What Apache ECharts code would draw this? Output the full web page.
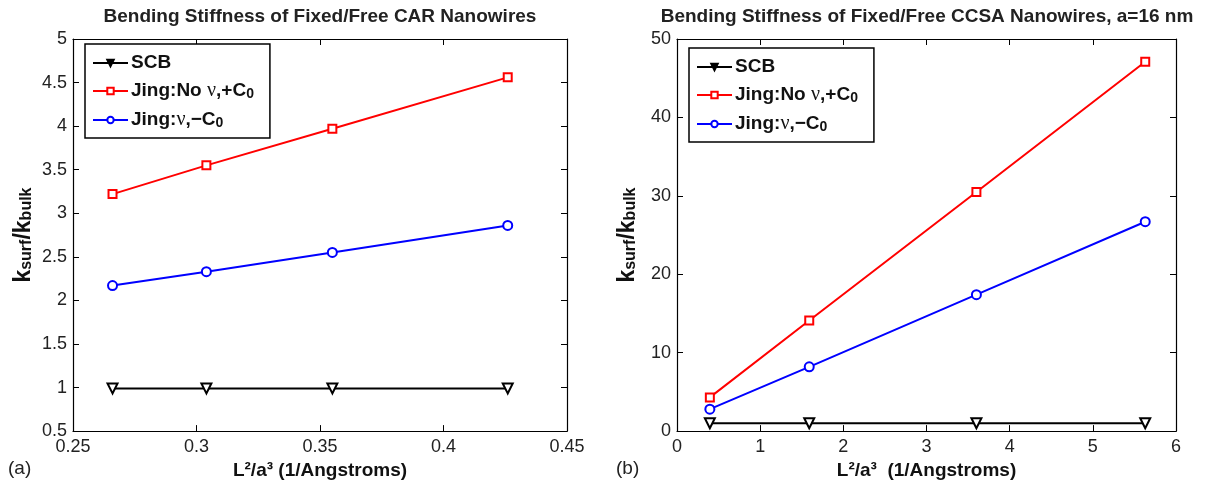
<!DOCTYPE html>
<html>
<head>
<meta charset="utf-8">
<script src="https://cdn.jsdelivr.net/npm/echarts@6/dist/echarts.min.js"></script>
<style>
html,body{margin:0;padding:0;background:#fff;}
#c{width:1205px;height:485px;}
</style>
</head>
<body>
<div id="c"></div>
<script>
// ---- data ----
const leftX = [0.266, 0.304, 0.355, 0.426];
const leftSCB = [0.99, 0.99, 0.99, 0.99];
const leftNoNu = [3.22, 3.55, 3.97, 4.56];
const leftNu = [2.17, 2.33, 2.55, 2.86];

const rightX = [0.395, 1.59, 3.60, 5.63];
const rightSCB = [1.0, 1.0, 1.0, 1.0];
const rightNoNu = [4.3, 14.1, 30.5, 47.1];
const rightNu = [2.8, 8.2, 17.4, 26.7];

const seriesNames = ['SCB', 'Jing:No ν,+C0', 'Jing:ν,−C0'];
const legendLabels = {
  'SCB': '{t|SCB}',
  'Jing:No ν,+C0': '{t|Jing:No }{g|ν}{t|,+C}{s|0}',
  'Jing:ν,−C0': '{t|Jing:}{g|ν}{t|,−C}{s|0}'
};
const titles = ['Bending Stiffness of Fixed/Free CAR Nanowires', 'Bending Stiffness of Fixed/Free CCSA Nanowires, a=16 nm'];
const xNames = ['L²/a³ (1/Angstroms)', 'L²/a³  (1/Angstroms)'];
const panelTags = ['(a)', '(b)'];

// ---- helpers ----
const FONT = 'Liberation Sans, Arial, Helvetica, sans-serif';
const pair = (xs, ys) => xs.map((x, i) => [x, ys[i]]);

function xAx(grid, min, max, interval, pos, name) {
  return {
    type: 'value', gridIndex: grid, min: min, max: max, interval: interval, position: pos,
    axisLine: {show: true, onZero: false, lineStyle: {color: '#000', width: 1.2}},
    axisTick: {show: true, inside: true, length: 6, lineStyle: {color: '#000', width: 1}},
    axisLabel: {show: pos === 'bottom', fontSize: 18, color: '#222', fontFamily: FONT, margin: 7},
    splitLine: {show: false},
    name: name || '', nameLocation: 'middle', nameGap: 29,
    nameTextStyle: {fontSize: 19, fontWeight: 'bold', color: '#111', fontFamily: FONT}
  };
}
function yAx(grid, min, max, interval, pos, withName) {
  return {
    type: 'value', gridIndex: grid, min: min, max: max, interval: interval, position: pos,
    axisLine: {show: true, onZero: false, lineStyle: {color: '#000', width: 1.2}},
    axisTick: {show: true, inside: true, length: 6, lineStyle: {color: '#000', width: 1}},
    axisLabel: {show: pos === 'left', fontSize: 18, color: '#222', fontFamily: FONT, margin: 6},
    splitLine: {show: false},
    name: withName ? '{b|k}{s|surf}{b|/k}{s|bulk}' : '',
    nameLocation: 'middle', nameGap: withName ? 38 : 0, nameRotate: 90,
    nameTextStyle: {
      color: '#111', fontFamily: FONT,
      rich: {
        b: {fontSize: 23, fontWeight: 'bold', color: '#111', fontFamily: FONT, lineHeight: 23, verticalAlign: 'top'},
        s: {fontSize: 16, fontWeight: 'bold', color: '#111', fontFamily: FONT, lineHeight: 16, verticalAlign: 'bottom', padding: [13, 0, 0, 0]}
      }
    }
  };
}
function mkSeries(xi, yi, xs, scb, noNu, nu) {
  return [
    {name: seriesNames[0], type: 'line', xAxisIndex: xi, yAxisIndex: yi, data: pair(xs, scb),
     symbol: 'triangle', symbolRotate: 180, symbolSize: 10, showSymbol: true,
     lineStyle: {color: '#000', width: 2}, itemStyle: {color: '#fff', borderColor: '#000', borderWidth: 2}},
    {name: seriesNames[1], type: 'line', xAxisIndex: xi, yAxisIndex: yi, data: pair(xs, noNu),
     symbol: 'rect', symbolSize: 8,
     lineStyle: {color: '#ff0000', width: 2}, itemStyle: {color: '#fff', borderColor: '#ff0000', borderWidth: 2}},
    {name: seriesNames[2], type: 'line', xAxisIndex: xi, yAxisIndex: yi, data: pair(xs, nu),
     symbol: 'circle', symbolSize: 9,
     lineStyle: {color: '#0000ff', width: 2}, itemStyle: {color: '#fff', borderColor: '#0000ff', borderWidth: 2}}
  ];
}
function mkLegend(left, top) {
  return {
    orient: 'vertical', left: left, top: top,
    backgroundColor: '#fff', borderColor: '#000', borderWidth: 1.5, borderRadius: 0,
    padding: [9, 16, 8, 7], itemGap: 3, itemWidth: 35, itemHeight: 8,
    selectedMode: false,
    data: [
      {name: seriesNames[0], itemStyle: {color: '#000', borderColor: '#000'}},
      {name: seriesNames[1]},
      {name: seriesNames[2]}
    ],
    formatter: n => legendLabels[n],
    textStyle: {
      padding: [0, 0, 0, -2],
      rich: {
        t: {fontSize: 19, fontWeight: 'bold', color: '#111', fontFamily: FONT, lineHeight: 20, verticalAlign: 'top'},
        g: {fontSize: 20, fontWeight: 'normal', color: '#111', fontFamily: 'Liberation Serif, DejaVu Serif, serif', lineHeight: 20, verticalAlign: 'top'},
        s: {fontSize: 14, fontWeight: 'bold', color: '#111', fontFamily: FONT, lineHeight: 14, verticalAlign: 'bottom', padding: [12, 0, 0, 0]}
      }
    }
  };
}

const chart = echarts.init(document.getElementById('c'), null, {renderer: 'canvas'});
chart.setOption({
  animation: false,
  backgroundColor: '#fff',
  grid: [
    {left: 73, top: 39, width: 494, height: 394, show: false},
    {left: 677, top: 39, width: 499, height: 394, show: false}
  ],
  xAxis: [
    xAx(0, 0.25, 0.45, 0.05, 'bottom', xNames[0]),
    xAx(0, 0.25, 0.45, 0.05, 'top'),
    xAx(1, 0, 6, 1, 'bottom', xNames[1]),
    xAx(1, 0, 6, 1, 'top')
  ],
  yAxis: [
    yAx(0, 0.5, 5, 0.5, 'left', true),
    yAx(0, 0.5, 5, 0.5, 'right', false),
    yAx(1, 0, 50, 10, 'left', true),
    yAx(1, 0, 50, 10, 'right', false)
  ],
  legend: [mkLegend(85, 44), mkLegend(689, 48)],
  graphic: [
    {type: 'text', x: 320, y: 17, style: {text: titles[0], font: 'bold 19px ' + FONT, fill: '#222', textAlign: 'center', textVerticalAlign: 'middle'}},
    {type: 'text', x: 927, y: 17, style: {text: titles[1], font: 'bold 19px ' + FONT, fill: '#222', textAlign: 'center', textVerticalAlign: 'middle'}},
    {type: 'text', x: 8, y: 469, style: {text: panelTags[0], font: '19px ' + FONT, fill: '#222', textAlign: 'left', textVerticalAlign: 'middle'}},
    {type: 'text', x: 616, y: 469, style: {text: panelTags[1], font: '19px ' + FONT, fill: '#222', textAlign: 'left', textVerticalAlign: 'middle'}}
  ],
  series: [].concat(
    mkSeries(0, 0, leftX, leftSCB, leftNoNu, leftNu),
    mkSeries(2, 2, rightX, rightSCB, rightNoNu, rightNu)
  )
});
</script>
</body>
</html>
